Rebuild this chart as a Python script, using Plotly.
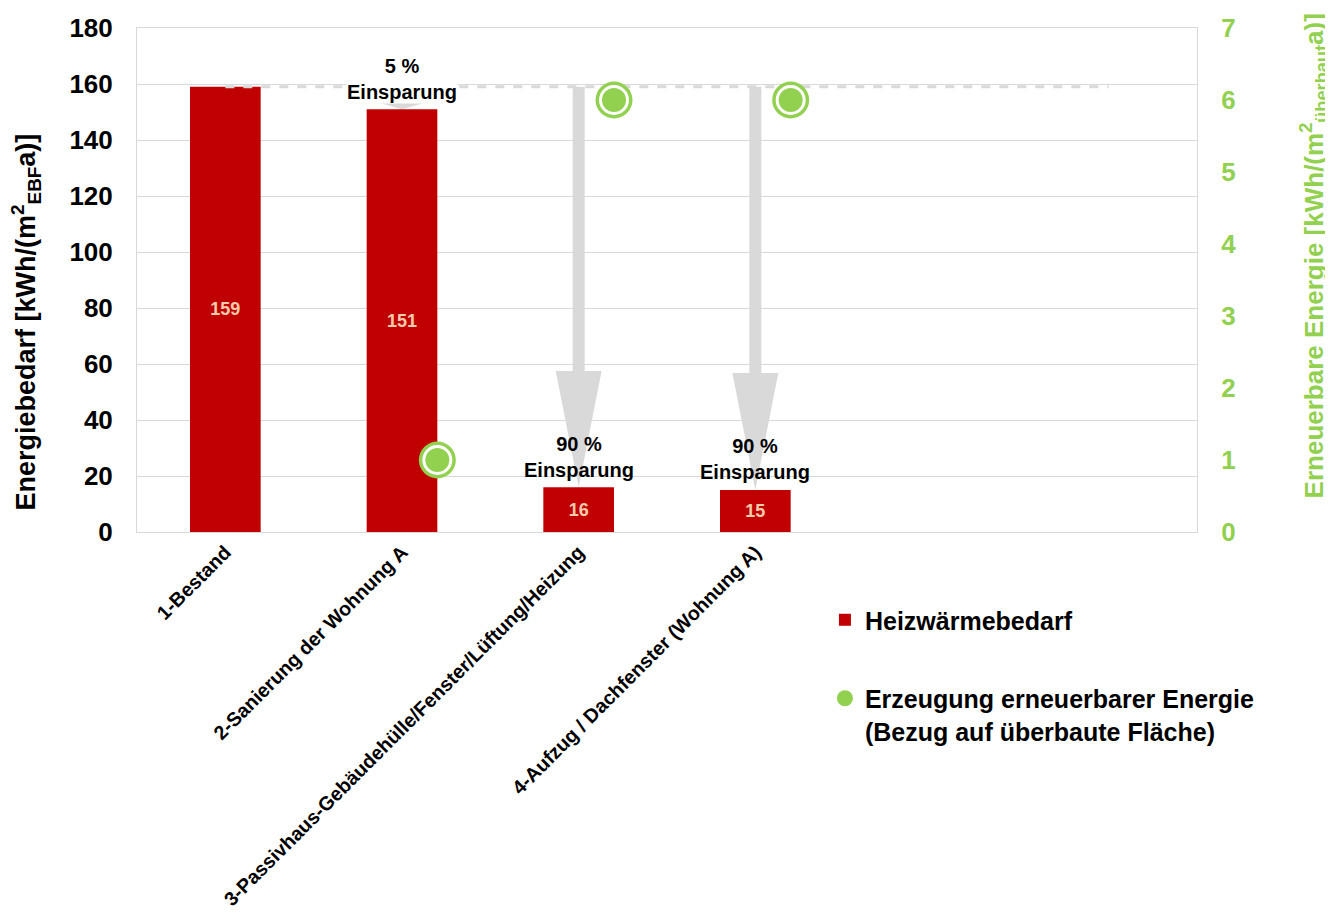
import plotly.graph_objects as go

# ---------------- data ----------------
categories = [
    "1-Bestand",
    "2-Sanierung der Wohnung A",
    "3-Passivhaus-Gebäudehülle/Fenster/Lüftung/Heizung",
    "4-Aufzug / Dachfenster (Wohnung A)",
]
heat_demand = [159, 151, 16, 15]          # kWh/(m² EBF a)
renewable = [None, 1, 6, 6]               # kWh/(m² überbaut a)
savings_labels = [None, "5 %", "90 %", "90 %"]
savings_label_bg = [None, "white", "rgba(0,0,0,0)", "rgba(0,0,0,0)"]

y_ticks = list(range(0, 181, 20))
y2_ticks = list(range(0, 8))

# ---------------- style ----------------
N_SLOTS = 6
BAR_W = 0.4
RED = "#C00000"
GREEN = "#92D050"
GREY = "#D9D9D9"
FONT = "Arial, Liberation Sans, sans-serif"
SHAFT_HALF = 0.034
HEAD_HALF = 0.13
HEAD_FRAC = 0.29

x_idx = list(range(len(categories)))
baseline = heat_demand[0]

fig = go.Figure()

fig.add_trace(go.Bar(
    x=x_idx, y=heat_demand, width=BAR_W,
    marker=dict(color=RED, line=dict(width=0)),
    text=[str(v) for v in heat_demand],
    textposition="inside", insidetextanchor="middle",
    textfont=dict(color="#F8CBAD", size=18, family=FONT, weight="bold"),
    name="Heizwärmebedarf", legendgroup="a", showlegend=True,
))

# reference line at the existing level
fig.add_trace(go.Scatter(
    x=[x_idx[0], N_SLOTS - 1], y=[baseline, baseline], mode="lines",
    line=dict(color=GREY, width=3, dash="dash"),
    showlegend=False, hoverinfo="skip",
))

rx = [i + BAR_W / 2 for i, v in zip(x_idx, renewable) if v is not None]
ry = [v for v in renewable if v is not None]

fig.add_trace(go.Scatter(
    x=rx, y=ry, yaxis="y2", mode="markers",
    marker=dict(size=37, color=GREEN, line=dict(width=0)),
    showlegend=False, hoverinfo="skip", cliponaxis=False,
))
fig.add_trace(go.Scatter(
    x=rx, y=ry, yaxis="y2", mode="markers",
    marker=dict(size=27, color=GREEN, line=dict(width=3, color="white")),
    showlegend=False, cliponaxis=False,
))
# legend entry for renewable energy
fig.add_trace(go.Scatter(
    x=[None], y=[None], yaxis="y2", mode="markers",
    marker=dict(size=16, color=GREEN, line=dict(width=0)),
    name="Erzeugung erneuerbarer Energie<br>(Bezug auf überbaute Fläche)",
    legendgroup="b", showlegend=True,
))

# savings arrows + labels
shapes = []
annotations = []
for i, lab in enumerate(savings_labels):
    if lab is None:
        continue
    top = baseline
    bot = heat_demand[i]
    hb = bot + HEAD_FRAC * (top - bot)
    path = (f"M {i-SHAFT_HALF},{top} L {i+SHAFT_HALF},{top} L {i+SHAFT_HALF},{hb} "
            f"L {i+HEAD_HALF},{hb} L {i},{bot} L {i-HEAD_HALF},{hb} L {i-SHAFT_HALF},{hb} Z")
    shapes.append(dict(type="path", path=path, xref="x", yref="y",
                       fillcolor=GREY, line=dict(width=0), layer="between"))
    annotations.append(dict(
        x=i, y=bot + 2, xref="x", yref="y", yanchor="bottom", xanchor="center",
        text=f"<b>{lab}<br>Einsparung</b>", showarrow=False,
        font=dict(size=20, color="black", family=FONT),
        bgcolor=savings_label_bg[i], borderpad=0,
    ))

# axis titles
annotations.append(dict(
    x=-0.105, y=0.417, xref="paper", yref="paper", textangle=-90,
    xanchor="center", yanchor="middle",
    text="<b>Energiebedarf [kWh/(m<sup>2</sup><sub>EBF</sub>a)]</b>",
    showarrow=False, font=dict(size=27, color="black", family=FONT),
))
annotations.append(dict(
    x=1.11, y=0.548, xref="paper", yref="paper", textangle=-90,
    xanchor="center", yanchor="middle",
    text="<b>Erneuerbare Energie [kWh/(m<sup>2</sup><sub>überbaut</sub>a)]</b>",
    showarrow=False, font=dict(size=26, color=GREEN, family=FONT),
))

# the page body adds an 8 px margin, so the figure is 8 px smaller than the window
fig.update_layout(
    width=1325, height=905,
    margin=dict(l=129, r=136, t=20, b=381, autoexpand=False),
    plot_bgcolor="white", paper_bgcolor="white",
    font=dict(family=FONT, color="black"),
    barmode="overlay",
    shapes=shapes, annotations=annotations,
    xaxis=dict(
        range=[-0.5, N_SLOTS - 0.5], tickvals=x_idx, ticktext=categories,
        tickangle=-45, tickfont=dict(size=19.7, weight="bold", family=FONT, color="black"),
        showgrid=False, zeroline=False, showline=True, linecolor=GREY, linewidth=1,
        mirror=True, ticks="", automargin=False,
    ),
    yaxis=dict(
        range=[0, 180], tickvals=y_ticks,
        tickfont=dict(size=26, weight="bold", family=FONT, color="black"),
        showgrid=True, gridcolor=GREY, gridwidth=1, zeroline=False,
        showline=True, linecolor=GREY, linewidth=1, mirror=True,
        ticks="outside", ticklen=18, tickcolor="rgba(0,0,0,0)", automargin=False,
    ),
    yaxis2=dict(
        range=[0, 7], tickvals=y2_ticks, overlaying="y", side="right",
        tickfont=dict(size=26, weight="bold", family=FONT, color=GREEN),
        showgrid=False, zeroline=False, showline=False,
        ticks="outside", ticklen=18, tickcolor="rgba(0,0,0,0)", automargin=False,
    ),
    legend=dict(
        x=0.649, y=-0.129, xanchor="left", yanchor="top",
        font=dict(size=25, weight="bold", family=FONT, color="black"),
        traceorder="grouped", tracegroupgap=43, valign="top",
        bgcolor="rgba(0,0,0,0)", itemwidth=30,
    ),
)

fig.write_html("out.html")
